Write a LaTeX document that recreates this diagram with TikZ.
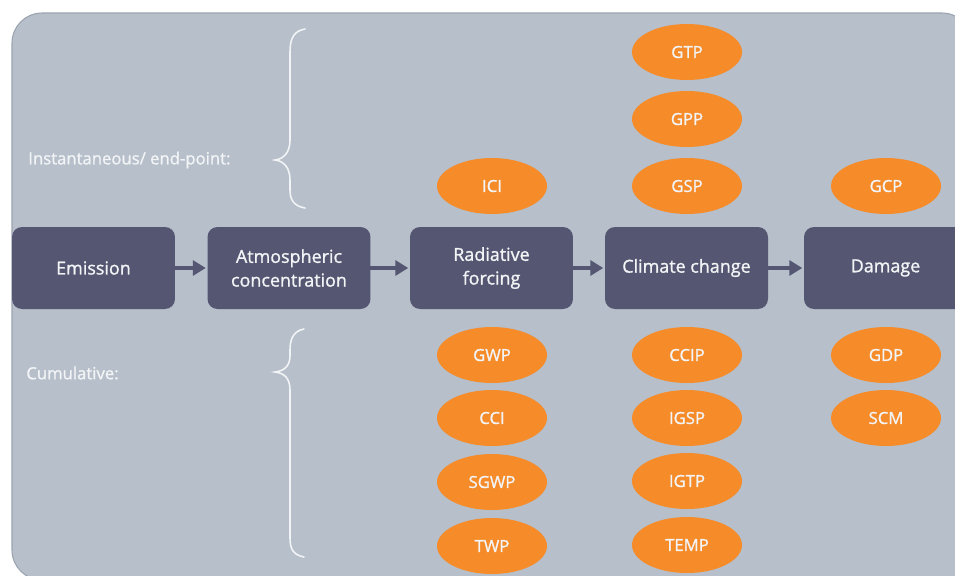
\documentclass[tikz,border=0pt]{standalone}
\usepackage{fontspec}
\setmainfont{Open Sans}
\newfontfamily\heavysans[FakeBold=1.2]{Open Sans}
\usepackage{tikz}
\usetikzlibrary{arrows.meta,shapes.geometric}
\definecolor{panelgray}{HTML}{B6BFCA}
\definecolor{paneledge}{HTML}{9CA4B0}
\definecolor{stagegray}{HTML}{555671}
\definecolor{metricorange}{HTML}{F68B29}
\definecolor{labelwhite}{HTML}{F2F4F6}
\begin{document}
\begin{tikzpicture}[x=0.02cm,y=-0.02cm,
  stage/.style={fill=stagegray,draw=none,shape=rectangle,rounded corners=0.2cm,minimum width=3.26cm,minimum height=1.64cm,inner sep=0pt,outer sep=0pt,text=labelwhite,align=center,font=\heavysans\fontsize{10.2}{13.5}\selectfont},
  metric/.style={fill=metricorange,draw=none,shape=ellipse,minimum width=2.2cm,minimum height=1.12cm,inner sep=0pt,outer sep=0pt,text=labelwhite,font=\heavysans\fontsize{9.5}{11}\selectfont},
  flow/.style={stagegray,line width=2.8pt,-{Triangle[length=0.26cm,width=0.3cm]},shorten >=1pt},
  curly/.style={labelwhite,line width=0.9pt,line cap=round},
  group/.style={anchor=west,inner sep=0pt,text=labelwhite,font=\heavysans\fontsize{9.5}{11}\selectfont}]
\useasboundingbox (0,0) rectangle (955,575);
\clip (0,0) rectangle (955,575);
\fill[white] (0,0) rectangle (955,575);
\draw[fill=panelgray,draw=paneledge,line width=0.6pt,rounded corners=0.6cm] (12,13) rectangle (972,580);
% stages
\node[stage] (emis) at (93.5,268) {Emission};
\node[stage] (atmo) at (289,268) {Atmospheric\\concentration};
\node[stage] (radf) at (491.5,268) {Radiative\\forcing};
\node[stage] (clim) at (686.5,268) {Climate change};
\node[stage] (dmg) at (885.5,268) {Damage};
\draw[flow] (emis.east) -- (atmo.west);
\draw[flow] (atmo.east) -- (radf.west);
\draw[flow] (radf.east) -- (clim.west);
\draw[flow] (clim.east) -- (dmg.west);
% instantaneous metrics
\node[metric] (ici) at (492,186) {ICI};
\node[metric] (gtp) at (687,52) {GTP};
\node[metric] (gpp) at (687,119) {GPP};
\node[metric] (gsp) at (687,186) {GSP};
\node[metric] (gcp) at (886,186) {GCP};
% cumulative metrics
\node[metric] (gwp) at (492,355) {GWP};
\node[metric] (cci) at (492,418) {CCI};
\node[metric] (sgwp) at (492,482) {SGWP};
\node[metric] (twp) at (492,546) {TWP};
\node[metric] (ccip) at (687,355) {CCIP};
\node[metric] (igsp) at (687,418) {IGSP};
\node[metric] (igtp) at (687,481) {IGTP};
\node[metric] (temp) at (687,545) {TEMP};
\node[metric] (gdp) at (886,355) {GDP};
\node[metric] (scm) at (886,418) {SCM};
% braces
\draw[curly] (305,29) .. controls (294,31) and (290,38) .. (290,52) -- (290,140) .. controls (290,152) and (284,159) .. (275,160) .. controls (284,161) and (290,168) .. (290,180) -- (290,190) .. controls (290,200) and (294,206) .. (305,208);
\draw[curly] (304,329) .. controls (294,331) and (290,338) .. (290,350) -- (290,356) .. controls (290,366) and (284,371) .. (275,372) .. controls (284,373) and (290,378) .. (290,390) -- (290,538) .. controls (290,550) and (294,555) .. (304,557);
\node[group] (inst) at (28,160) {Instantaneous/ end-point:};
\node[group] (cumu) at (26,373) {Cumulative:};
\end{tikzpicture}
\end{document}
